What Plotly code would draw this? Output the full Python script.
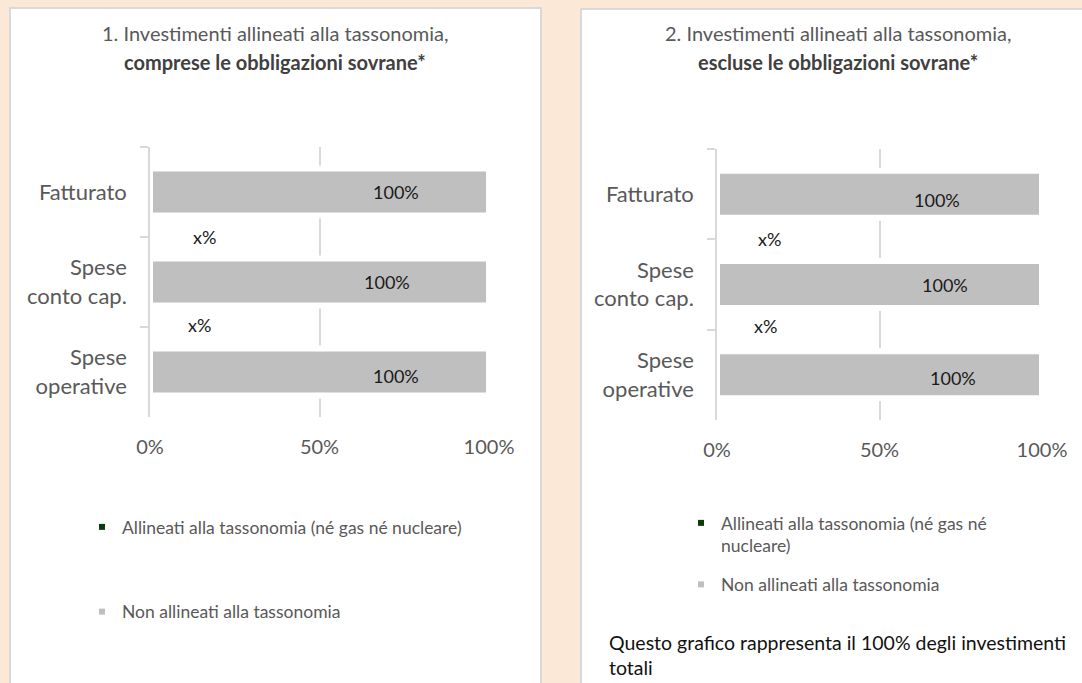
import plotly.graph_objects as go

W, H = 1082, 683

# --- data ---
categories = ["Fatturato", "Spese<br>conto cap.", "Spese<br>operative"]
aligned_incl = [0, 0, 0]          # shown as "x%" placeholders
non_aligned_incl = [1.0, 1.0, 1.0]
aligned_excl = [0, 0, 0]
non_aligned_excl = [1.0, 1.0, 1.0]
aligned_labels = ["x%", "x%", ""]
tick_vals = [0, 0.5, 1]
tick_text = ["0%", "50%", "100%"]

name_aligned = "Allineati alla tassonomia (né gas né nucleare)"
name_non = "Non allineati alla tassonomia"

GREEN = "#0b3d0b"
GREY = "#bfbfbf"
PEACH = "#fbe8d6"
TXT = "#595959"
FONT = "Lato"


def fx(p):
    return p / W


def fy(p):
    return 1 - p / H


fig = go.Figure()

# --- bars ---
for xa, ya, green, grey in [("x", "y", aligned_incl, non_aligned_incl),
                            ("x2", "y2", aligned_excl, non_aligned_excl)]:
    fig.add_trace(go.Bar(
        y=categories, x=green, orientation="h", xaxis=xa, yaxis=ya,
        marker=dict(color=GREEN, line=dict(width=0)), width=0.52,
        name=name_aligned, showlegend=False, hoverinfo="skip"))
    fig.add_trace(go.Bar(
        y=categories, x=grey, orientation="h", xaxis=xa, yaxis=ya,
        marker=dict(color=GREY, line=dict(color="white", width=6)), width=0.52,
        name=name_non, showlegend=False))

# legend entries (small square markers)
for leg, nm_a in [("legend", name_aligned),
                  ("legend2", "Allineati alla tassonomia (né gas né<br>nucleare)")]:
    fig.add_trace(go.Scatter(x=[None], y=[None], mode="markers", name=nm_a,
                             legend=leg, legendgroup="a",
                             marker=dict(symbol="square", size=6, color=GREEN)))
    fig.add_trace(go.Scatter(x=[None], y=[None], mode="markers", name=name_non,
                             legend=leg, legendgroup="b",
                             marker=dict(symbol="square", size=6, color=GREY)))

# --- axes ---
xa_common = dict(range=[0, 1], tickvals=tick_vals, ticktext=tick_text,
                 showgrid=True, gridcolor="#d9d9d9", gridwidth=1.5,
                 zeroline=False, showline=False, ticks="", automargin=False,
                 tickfont=dict(family=FONT, size=20, color=TXT),
                 ticklabelstandoff=16, fixedrange=True)
ya_common = dict(categoryorder="array", categoryarray=categories,
                 range=[len(categories) - 0.5, -0.5], autorange=False,
                 showgrid=False, zeroline=False,
                 showline=True, linecolor="#d9d9d9", linewidth=1.5,
                 ticks="outside", tickson="boundaries", ticklen=8,
                 tickcolor="#d9d9d9", tickwidth=1.5, automargin=False,
                 tickfont=dict(family=FONT, size=22, color=TXT),
                 ticklabelstandoff=17, fixedrange=True)

fig.update_layout(
    xaxis=dict(domain=[fx(150), fx(489)], anchor="y", **xa_common),
    yaxis=dict(domain=[fy(417), fy(147)], anchor="x", **ya_common),
    xaxis2=dict(domain=[fx(717), fx(1042)], anchor="y2", **xa_common),
    yaxis2=dict(domain=[fy(420), fy(149)], anchor="x2", **ya_common),
)

# --- panels ---
shapes = [
    dict(type="rect", xref="paper", yref="paper", layer="below",
         x0=fx(10), x1=fx(541), y0=-0.02, y1=fy(8),
         fillcolor="white", line=dict(color="#d9d9d9", width=2)),
    dict(type="rect", xref="paper", yref="paper", layer="below",
         x0=fx(581), x1=1.02, y0=-0.02, y1=fy(9),
         fillcolor="white", line=dict(color="#d9d9d9", width=2)),
]

# --- annotations ---
ann = []
titles = [
    (275, "1. Investimenti allineati alla tassonomia,", "<b>comprese le obbligazioni sovrane*</b>"),
    (838, "2. Investimenti allineati alla tassonomia,", "<b>escluse le obbligazioni sovrane*</b>"),
]
for cx, l1, l2 in titles:
    ann.append(dict(xref="paper", yref="paper", x=fx(cx), y=fy(33), text=l1,
                    showarrow=False, xanchor="center", yanchor="middle",
                    font=dict(family=FONT, size=20, color=TXT)))
    ann.append(dict(xref="paper", yref="paper", x=fx(cx), y=fy(62), text=l2,
                    showarrow=False, xanchor="center", yanchor="middle",
                    font=dict(family=FONT, size=20, color="#404040")))

# bar value labels (positions as in the original, style only)
label_shift = {"x": [(-93, 0), (-102, 0), (-93, -4)],
               "x2": [(-105, -6), (-97, 0), (-89, -3)]}
x_pct_shift = {"x": [(41, -45), (36, -43)], "x2": [(39, -45), (35, -41)]}
for xa, ya, grey, green in [("x", "y", non_aligned_incl, aligned_incl),
                            ("x2", "y2", non_aligned_excl, aligned_excl)]:
    for i, cat in enumerate(categories):
        dx, dy = label_shift[xa][i]
        ann.append(dict(xref=xa, yref=ya, x=grey[i], y=cat,
                        text=f"{grey[i]:.0%}", showarrow=False,
                        xanchor="center", xshift=dx, yshift=dy,
                        font=dict(family=FONT, size=18, color="#1a1a1a")))
        if aligned_labels[i]:
            sx, sy = x_pct_shift[xa][i]
            ann.append(dict(xref=xa, yref=ya, x=green[i], y=cat,
                            text=aligned_labels[i], showarrow=False,
                            xanchor="left", xshift=sx, yshift=sy,
                            font=dict(family=FONT, size=18, color="#1a1a1a")))

ann.append(dict(xref="paper", yref="paper", x=fx(607), y=fy(642),
                text="Questo grafico rappresenta il 100% degli investimenti",
                showarrow=False, xanchor="left", yanchor="middle",
                font=dict(family=FONT, size=19.5, color="#111111")))
ann.append(dict(xref="paper", yref="paper", x=fx(607), y=fy(667),
                text="totali", showarrow=False, xanchor="left", yanchor="middle",
                font=dict(family=FONT, size=19.5, color="#111111")))

fig.update_layout(
    width=W, height=H,
    margin=dict(l=0, r=0, t=0, b=0, autoexpand=False),
    paper_bgcolor=PEACH, plot_bgcolor="rgba(0,0,0,0)",
    barmode="overlay",
    shapes=shapes, annotations=ann,
    legend=dict(x=fx(82), y=fy(509), xanchor="left", yanchor="top",
                bgcolor="rgba(0,0,0,0)", tracegroupgap=59,
                font=dict(family=FONT, size=17.5, color=TXT)),
    legend2=dict(x=fx(681), y=fy(505), xanchor="left", yanchor="top",
                 bgcolor="rgba(0,0,0,0)", tracegroupgap=13, valign="top",
                 font=dict(family=FONT, size=17.5, color=TXT)),
    font=dict(family=FONT),
)

fig.write_html("out.html", config={"displayModeBar": False},
               post_script="document.body.style.margin='0';")
